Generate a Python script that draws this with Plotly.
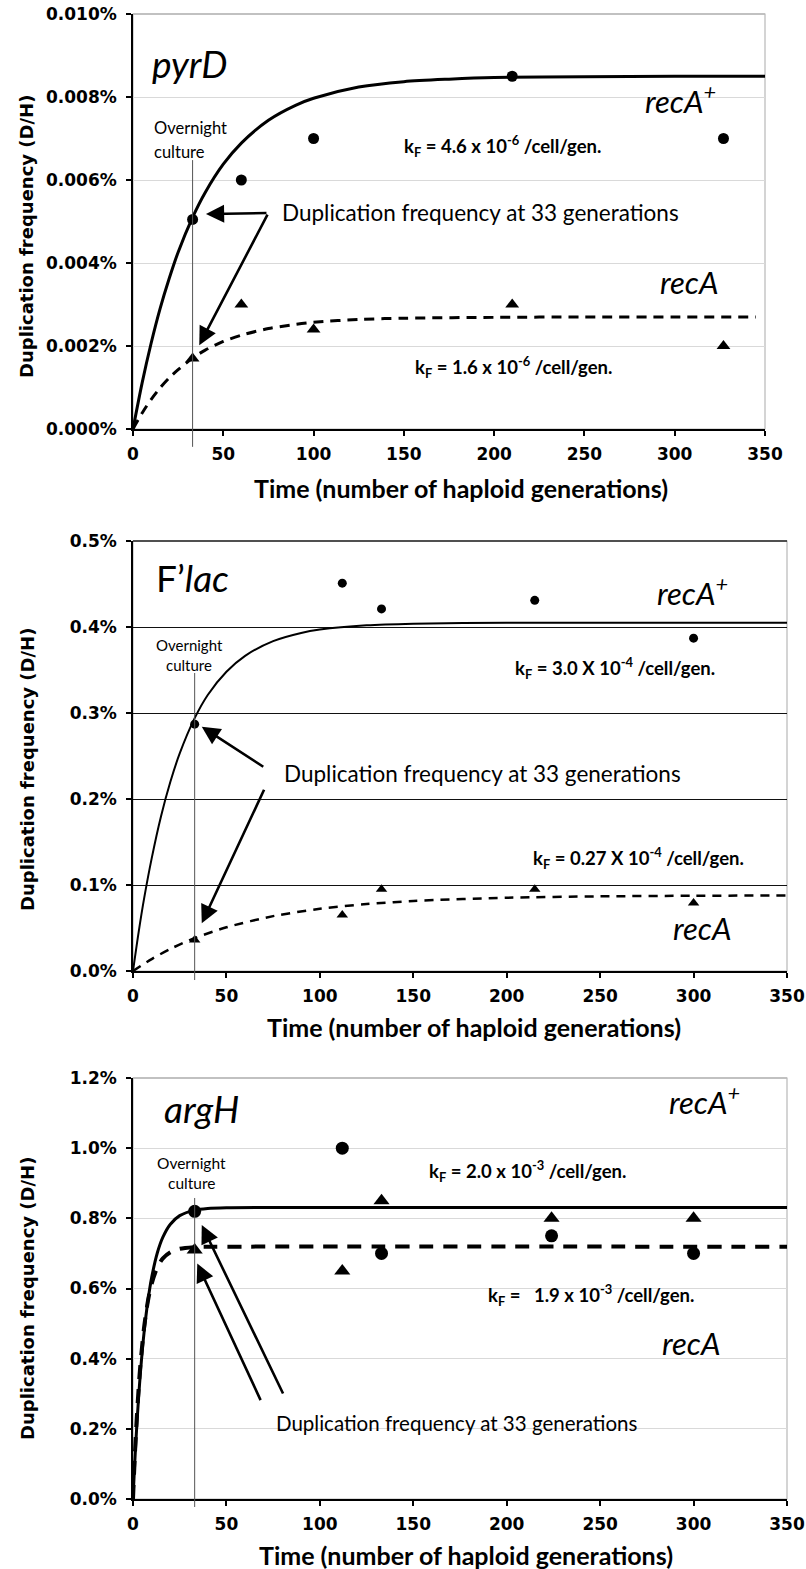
import plotly.graph_objects as go

W, H = 806, 1569

# ---------------- data (percent units) ----------------
# Panel 1: pyrD
pyrD_gen = [33, 60, 100, 210, 327]
pyrD_recA_plus = [0.00505, 0.0060, 0.0070, 0.0085, 0.0070]
pyrD_recA = [0.0017, 0.0030, 0.0024, 0.0030, 0.0020]
pyrD_fit_plus_t = [0, 5, 10, 15, 20, 25, 33, 40, 50, 60, 75, 90, 100, 125, 150, 175,
                   200, 250, 300, 350]
pyrD_fit_plus = [0, 0.00110, 0.00206, 0.00290, 0.00362, 0.00426, 0.00510, 0.00570,
                 0.00638, 0.00689, 0.00744, 0.00780, 0.00797, 0.00824, 0.00837,
                 0.00843, 0.00847, 0.00849, 0.0085, 0.0085]
pyrD_fit_recA_t = [0, 5, 10, 15, 20, 25, 33, 40, 50, 60, 75, 90, 100, 125, 150, 200,
                   250, 300, 345]
pyrD_fit_recA = [0, 0.00038, 0.00071, 0.00099, 0.00123, 0.00143, 0.00171, 0.00190,
                 0.00211, 0.00226, 0.00242, 0.00252, 0.00257, 0.00264, 0.00267,
                 0.00269, 0.0027, 0.0027, 0.0027]

# Panel 2: F'lac
flac_gen = [33, 112, 133, 215, 300]
flac_recA_plus = [0.287, 0.451, 0.421, 0.431, 0.387]
flac_recA = [0.036, 0.065, 0.095, 0.095, 0.079]
flac_fit_plus_t = [0, 3, 6, 10, 15, 20, 25, 33, 40, 50, 60, 75, 90, 100, 125, 150,
                   200, 250, 300, 350]
flac_fit_plus = [0, 0.045, 0.085, 0.131, 0.180, 0.220, 0.253, 0.294, 0.321, 0.348,
                 0.3665, 0.3836, 0.3931, 0.397, 0.402, 0.4039, 0.405, 0.405, 0.405,
                 0.405]
flac_fit_recA_t = [0, 10, 20, 33, 50, 75, 100, 125, 150, 200, 250, 300, 350]
flac_fit_recA = [0, 0.0139, 0.0257, 0.0382, 0.0508, 0.0638, 0.0723, 0.0778, 0.0814,
                 0.0852, 0.0868, 0.0875, 0.0878]

# Panel 3: argH
argH_gen = [33, 112, 133, 224, 300]
argH_recA_plus = [0.82, 1.00, 0.70, 0.75, 0.70]
argH_recA = [0.71, 0.65, 0.85, 0.80, 0.80]
argH_fit_plus_t = [0, 1, 2, 3, 4, 6, 8, 10, 13, 16, 20, 25, 33, 40, 50, 75, 350]
argH_fit_plus = [0, 0.1106, 0.2065, 0.2897, 0.3617, 0.4783, 0.566, 0.6318, 0.7013,
                 0.7465, 0.7833, 0.8077, 0.8235, 0.8283, 0.8303, 0.831, 0.831]
argH_fit_recA_t = [0, 1, 2, 3, 4, 6, 8, 10, 13, 16, 20, 25, 33, 40, 350]
argH_fit_recA = [0, 0.1258, 0.2296, 0.3152, 0.3858, 0.4922, 0.5646, 0.6139, 0.66,
                 0.6858, 0.7036, 0.7131, 0.7178, 0.7188, 0.719]

x_ticks = [0, 50, 100, 150, 200, 250, 300, 350]
overnight_gen = 33

# ---------------- helpers ----------------
def pxx(x):
    return x / W

def pyy(y):
    return 1 - y / H

CAL = "Lato"
VER = "DejaVu Sans"

fig = go.Figure()

panels = [
    dict(sfx="", xdom=(133, 765), ydom=(14, 429), yr=[0, 0.010], dt=0.002, fmt=".3f",
         grid="#d9d9d9", gw=1.2, top="#b8b8b8",
         fitp=(pyrD_fit_plus_t, pyrD_fit_plus), fitr=(pyrD_fit_recA_t, pyrD_fit_recA),
         pts=(pyrD_gen, pyrD_recA_plus, pyrD_recA),
         lw_p=3, lw_r=3, dash="10px,7px", ms_c=11, ms_t=12,
         vline=(-0.043, 0.648)),
    dict(sfx="2", xdom=(133, 787), ydom=(541, 971), yr=[0, 0.5], dt=0.1, fmt=".1f",
         grid="#111111", gw=1.3, top="#222222",
         fitp=(flac_fit_plus_t, flac_fit_plus), fitr=(flac_fit_recA_t, flac_fit_recA),
         pts=(flac_gen, flac_recA_plus, flac_recA),
         lw_p=2, lw_r=2.5, dash="9px,7px", ms_c=9, ms_t=10,
         vline=(-0.021, 0.693)),
    dict(sfx="3", xdom=(133, 787), ydom=(1078, 1499), yr=[0, 1.2], dt=0.2, fmt=".1f",
         grid="#d9d9d9", gw=1.2, top="#b8b8b8",
         fitp=(argH_fit_plus_t, argH_fit_plus), fitr=(argH_fit_recA_t, argH_fit_recA),
         pts=(argH_gen, argH_recA_plus, argH_recA),
         lw_p=3, lw_r=4, dash="14px,10px", ms_c=13, ms_t=14,
         vline=(-0.019, 0.715)),
]

shapes = []
for p in panels:
    xa = "x" + p["sfx"]
    ya = "y" + p["sfx"]
    fig.add_trace(go.Scatter(x=p["fitp"][0], y=p["fitp"][1], mode="lines",
                             line=dict(color="black", width=p["lw_p"], shape="spline",
                                       smoothing=0.8),
                             xaxis=xa, yaxis=ya, showlegend=False, hoverinfo="skip"))
    fig.add_trace(go.Scatter(x=p["fitr"][0], y=p["fitr"][1], mode="lines",
                             line=dict(color="black", width=p["lw_r"], shape="spline",
                                       smoothing=0.8, dash=p["dash"]),
                             xaxis=xa, yaxis=ya, showlegend=False, hoverinfo="skip"))
    fig.add_trace(go.Scatter(x=p["pts"][0], y=p["pts"][1], mode="markers",
                             marker=dict(symbol="circle", size=p["ms_c"], color="black"),
                             xaxis=xa, yaxis=ya, showlegend=False, cliponaxis=False))
    fig.add_trace(go.Scatter(x=p["pts"][0], y=p["pts"][2], mode="markers",
                             marker=dict(symbol="triangle-up", size=p["ms_t"], color="black"),
                             xaxis=xa, yaxis=ya, showlegend=False, cliponaxis=False))

    xkey = "xaxis" + p["sfx"]
    ykey = "yaxis" + p["sfx"]
    fig.update_layout(**{
        xkey: dict(domain=[pxx(p["xdom"][0]), pxx(p["xdom"][1])], anchor=ya,
                   automargin=False,
                   range=[0, 350], tickvals=x_ticks, ticks="outside", ticklen=5,
                   tickwidth=1.5, tickcolor="black", showline=True, linecolor="black",
                   linewidth=1.6, showgrid=False, zeroline=False,
                   tickfont=dict(family=VER, size=17, color="black", weight="bold"),
                   ticklabelstandoff=4),
        ykey: dict(domain=[pyy(p["ydom"][1]), pyy(p["ydom"][0])], anchor=xa,
                   automargin=False,
                   range=p["yr"], dtick=p["dt"], tick0=0, tickformat=p["fmt"],
                   ticksuffix="%", ticks="outside", ticklen=5, tickwidth=1.5,
                   tickcolor="black", showline=True, linecolor="black", linewidth=1.6,
                   showgrid=True, gridcolor=p["grid"], gridwidth=p["gw"], zeroline=False,
                   tickfont=dict(family=VER, size=17, color="black", weight="bold"),
                   ticklabelstandoff=6),
    })
    shapes.append(dict(type="rect", xref=xa + " domain", yref=ya + " domain",
                       x0=0, x1=1, y0=0, y1=1, layer="below",
                       line=dict(color="#b8b8b8", width=1.2)))
    shapes.append(dict(type="line", xref=xa + " domain", yref=ya + " domain",
                       x0=0, x1=1, y0=1, y1=1, layer="below",
                       line=dict(color=p["top"], width=1.4)))
    shapes.append(dict(type="line", xref=xa, yref=ya + " domain",
                       x0=overnight_gen, x1=overnight_gen,
                       y0=p["vline"][0], y1=p["vline"][1],
                       line=dict(color="#555555", width=1)))

ann = []

def txt(text, x, y, size, family=CAL, xanchor="left", bold=False, italic=False,
        textangle=0):
    if italic:
        text = "<i>" + text + "</i>"
    ann.append(dict(text=text, x=pxx(x), y=pyy(y), xref="paper", yref="paper",
                    xanchor=xanchor, yanchor="middle", showarrow=False,
                    textangle=textangle,
                    font=dict(family=family, size=size, color="black",
                              weight="bold" if bold else "normal")))

def arrow(xa, ya, x, y, axp, ayp):
    ann.append(dict(x=x, y=y, xref=xa, yref=ya, ax=axp, ay=ayp, text="",
                    showarrow=True, arrowhead=2, arrowsize=1.4, arrowwidth=2.6,
                    arrowcolor="black", standoff=0))

YT = "Duplication frequency (D/H)"
XT = "Time (number of haploid generations)"
DUP = "Duplication frequency at 33 generations"

# Panel 1
txt("pyrD", 150, 64, 37, italic=True)
txt("Overnight", 152, 128, 16.5)
txt("culture", 152, 152, 16.5)
txt(DUP, 280, 212, 22.5)
txt("k<sub>F</sub> = 4.6 x 10<sup>-6</sup> /cell/gen.", 402, 146, 18.5, bold=True)
txt("recA<sup>+</sup>", 643, 100, 31, italic=True)
txt("recA", 658, 282, 31, italic=True)
txt("k<sub>F</sub> = 1.6 x 10<sup>-6</sup> /cell/gen.", 413, 367, 18.5, bold=True)
txt(YT, 27, 237, 18, family=VER, xanchor="center", bold=True, textangle=-90)
txt(XT, 461, 488, 25, xanchor="center", bold=True)
arrow("x", "y", 40.4, 0.00518, 62, -1)
arrow("x", "y", 36.7, 0.00202, 69, -132)

# Panel 2
txt("F\u2019<i>lac</i>", 154, 577, 37)
txt("Overnight", 189, 645, 15, xanchor="center")
txt("culture", 189, 665, 15, xanchor="center")
txt("recA<sup>+</sup>", 655, 591, 31, italic=True)
txt("k<sub>F</sub> = 3.0 X 10<sup>-4</sup> /cell/gen.", 513, 668, 18.5, bold=True)
txt("k<sub>F</sub> = 0.27 X 10<sup>-4</sup> /cell/gen.", 531, 858, 18.5, bold=True)
txt("recA", 671, 928, 31, italic=True)
txt(DUP, 282, 773, 22.5)
txt(YT, 27, 770, 18, family=VER, xanchor="center", bold=True, textangle=-90)
txt(XT, 474, 1027, 25, xanchor="center", bold=True)
arrow("x2", "y2", 36.8, 0.284, 63, 41)
arrow("x2", "y2", 36.8, 0.0555, 63, -135)

# Panel 3
txt("argH", 162, 1108, 37, italic=True)
txt("recA<sup>+</sup>", 667, 1100, 31, italic=True)
txt("Overnight", 191, 1163, 15.5, xanchor="center")
txt("culture", 191, 1183, 15.5, xanchor="center")
txt("k<sub>F</sub> = 2.0 x 10<sup>-3</sup> /cell/gen.", 427, 1171, 18.5, bold=True)
txt("k<sub>F</sub> =\u00a0\u00a0 1.9 x 10<sup>-3</sup> /cell/gen.", 486, 1295, 18.5, bold=True)
txt("recA", 660, 1343, 31, italic=True)
txt(DUP, 274, 1423, 20.5)
txt(YT, 27, 1299, 18, family=VER, xanchor="center", bold=True, textangle=-90)
txt(XT, 466, 1555, 25, xanchor="center", bold=True)
arrow("x3", "y3", 36.8, 0.781, 82, 170)
arrow("x3", "y3", 34.4, 0.671, 64, 138)

fig.update_layout(width=W, height=H, margin=dict(l=0, r=0, t=0, b=0, autoexpand=False),
                  paper_bgcolor="white", plot_bgcolor="white",
                  shapes=shapes, annotations=ann, showlegend=False)

fig.write_html("out.html",
               config={"displayModeBar": False},
               post_script="document.body.style.margin='0';"
                           "document.body.style.overflow='hidden';")
